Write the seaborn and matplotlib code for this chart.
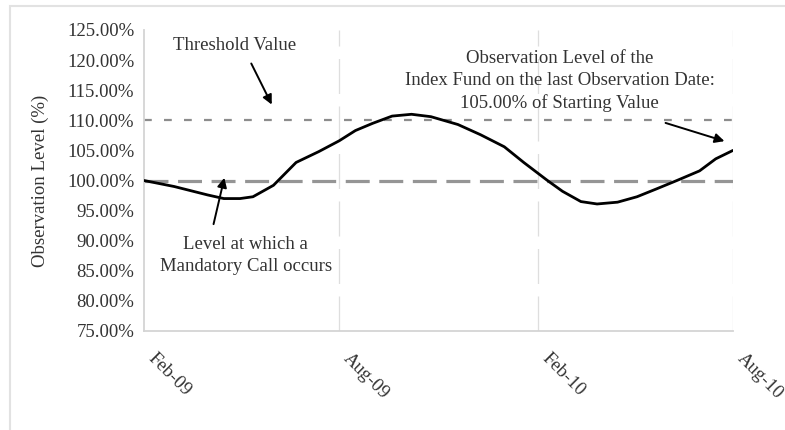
import pandas as pd
import numpy as np
import seaborn as sns
import matplotlib
matplotlib.use("Agg")
import matplotlib.pyplot as plt
import matplotlib.dates as mdates
import matplotlib.transforms as mtransforms
from matplotlib.patches import Rectangle

# observation level of the index fund (% of starting value)
fechas = ["2009-02-01", "2009-03-01", "2009-04-01", "2009-04-16", "2009-05-01",
          "2009-05-13", "2009-06-01", "2009-06-22", "2009-07-13", "2009-08-01",
          "2009-08-16", "2009-09-01", "2009-09-19", "2009-10-07", "2009-10-25",
          "2009-11-19", "2009-12-10", "2010-01-01", "2010-01-19", "2010-02-10",
          "2010-02-24", "2010-03-13", "2010-03-28", "2010-04-16", "2010-05-04",
          "2010-05-22", "2010-06-10", "2010-07-01", "2010-07-16", "2010-08-01"]
nivel = [100.0, 99.0, 97.6, 97.0, 97.0,
         97.3, 99.2, 103.0, 104.8, 106.6,
         108.3, 109.5, 110.7, 111.0, 110.6,
         109.3, 107.6, 105.6, 103.0, 100.0,
         98.2, 96.5, 96.1, 96.4, 97.3,
         98.6, 100.0, 101.6, 103.6, 105.0]

umbral = 110.0        # Threshold Value
nivel_call = 100.0    # Level at which a Mandatory Call occurs
ticks_x = ["2009-02-01", "2009-08-01", "2010-02-01", "2010-08-01"]
ticks_y = [75, 80, 85, 90, 95, 100, 105, 110, 115, 120, 125]

df = pd.DataFrame({"fecha": pd.to_datetime(fechas), "nivel": nivel})

sns.set_style("white")
plt.rcParams['font.family'] = ['Liberation Serif', 'DejaVu Serif']

fig = plt.figure(figsize=(7.85, 4.3), dpi=100)
ax = fig.add_axes([144/785, 1-331/430, (733-144)/785, (331-30)/430])

gris = "#d4d4d4"
texto = "#333333"
fs = 13.5

# vertical grid lines at the date ticks
for t in pd.to_datetime(ticks_x)[1:]:
    ax.axvline(t, color="#dedede", lw=0.9, ls=(0, (28, 10)), zorder=0)

ax.axhline(umbral, color="#8c8c8c", lw=1.6, ls=(0, (3.5, 5.5)), zorder=1)
ax.axhline(nivel_call, color="#959595", lw=2.3, ls=(0, (7.5, 3)), zorder=1)

sns.lineplot(data=df, x="fecha", y="nivel", color="black", lw=2.0, ax=ax, zorder=3)

ax.set_xlim(pd.Timestamp(ticks_x[0]), pd.Timestamp(ticks_x[-1]))
ax.set_ylim(75, 125)
ax.set_yticks(ticks_y)
ax.yaxis.set_major_formatter(plt.FuncFormatter(lambda v, p: f"{v:.2f}%"))
ax.set_xticks(pd.to_datetime(ticks_x))
ax.xaxis.set_major_formatter(mdates.DateFormatter("%b-%y"))

for s in ["top", "right"]:
    ax.spines[s].set_visible(False)
for s in ["left", "bottom"]:
    ax.spines[s].set_color(gris)
    ax.spines[s].set_linewidth(1.3)

ax.tick_params(axis="y", length=4, width=1, color=gris, labelsize=fs, labelcolor=texto, pad=3)
ax.tick_params(axis="x", length=4, width=1, color=gris, labelsize=fs, labelcolor=texto, pad=14)
desplaza = mtransforms.ScaledTranslation(7/100, 0, fig.dpi_scale_trans)
for lab in ax.get_xticklabels():
    lab.set_rotation(-45)
    lab.set_ha("left")
    lab.set_va("center")
    lab.set_rotation_mode("anchor")
    lab.set_transform(lab.get_transform() + desplaza)

ax.set_xlabel("")
ax.set_ylabel("Observation Level (%)", fontsize=fs, color=texto, labelpad=13)

# annotations
ax.text(0.153, 0.950, "Threshold Value", transform=ax.transAxes, ha="center", va="center",
        fontsize=fs, color=texto)
ax.annotate("", xy=(0.219, 0.744), xytext=(0.180, 0.897), xycoords="axes fraction",
            arrowprops=dict(arrowstyle="-|>", color="black", lw=1.4, mutation_scale=14))

ax.text(0.173, 0.251, "Level at which a\nMandatory Call occurs", transform=ax.transAxes,
        ha="center", va="center", fontsize=fs, color=texto, linespacing=1.45)
ax.annotate("", xy=(0.1375, 0.518), xytext=(0.117, 0.346), xycoords="axes fraction",
            arrowprops=dict(arrowstyle="-|>", color="black", lw=1.4, mutation_scale=14))

ax.text(0.706, 0.831, "Observation Level of the\nIndex Fund on the last Observation Date:\n105.00% of Starting Value",
        transform=ax.transAxes, ha="center", va="center", fontsize=fs, color=texto, linespacing=1.35)
ax.annotate("", xy=(0.990, 0.628), xytext=(0.881, 0.694), xycoords="axes fraction",
            arrowprops=dict(arrowstyle="-|>", color="black", lw=1.4, mutation_scale=14))

# light frame around the chart
fig.patches.append(Rectangle((10/785, -0.05), 1.1, 1 - 6/430 + 0.05, transform=fig.transFigure,
                             fill=False, edgecolor="#e2e2e2", lw=1.5))

fig.savefig("out.png", dpi=100)
